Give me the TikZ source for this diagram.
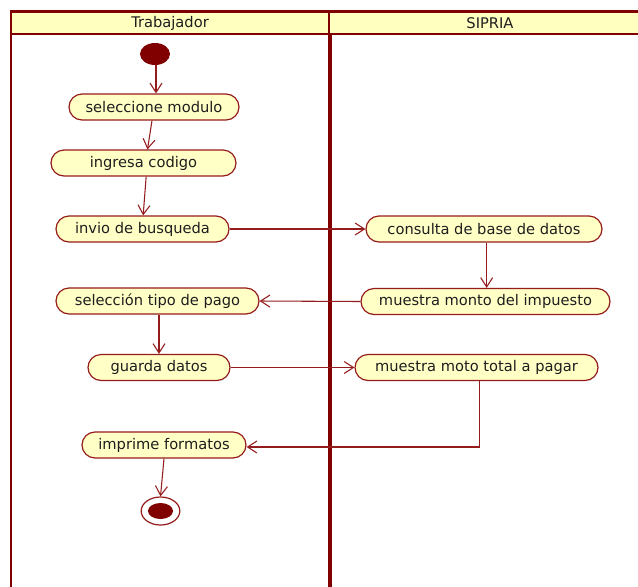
\documentclass[tikz,border=0pt]{standalone}
\usepackage{fontspec}
\setmainfont{DejaVu Sans}
\usetikzlibrary{shapes.misc,shapes.geometric,arrows.meta,calc}
\definecolor{lane}{HTML}{800000}
\definecolor{edge}{HTML}{951C1C}
\definecolor{actfill}{HTML}{FFFFC6}
\definecolor{headfill}{HTML}{FFFFC0}
\definecolor{txt}{HTML}{1E1E1E}
\begin{document}
\begin{tikzpicture}[x=0.75pt,y=-0.75pt,
  act/.style={rounded rectangle, draw=edge, fill=actfill, line width=0.9pt,
    minimum height=19.5pt, inner xsep=0pt, text=txt,
    font=\fontsize{11}{13}\selectfont},
  flow/.style={draw=edge, line width=0.8pt, -{Straight Barb[length=7pt,width=9pt]}},
  headtxt/.style={text=txt, font=\fontsize{11}{13}\selectfont}]
\useasboundingbox (0,0) rectangle (638,586);
\fill[white] (0,0) rectangle (638,586);
% swimlanes
\fill[headfill] (11,12) rectangle (640,34);
\draw[lane, line width=1.6pt] (10,11.5) -- (640,11.5);
\draw[lane, line width=1.6pt] (11,34) -- (640,34);
\draw[lane, line width=1.5pt] (11,11) -- (11,590);
\draw[lane, line width=1.5pt] (329,11) -- (329,34);
\draw[lane, line width=3pt] (330,34) -- (330,590);
\node[headtxt] (h1) at (170,23) {Trabajador};
\node[headtxt] (h2) at (490,23) {SIPRIA};
% start / end
\node[ellipse, fill=lane, minimum width=22.5pt, minimum height=16.5pt, inner sep=0pt] (start) at (155,54) {};
\node[ellipse, draw=edge, line width=0.9pt, minimum width=29pt, minimum height=21pt, inner sep=0pt] (end) at (160.5,511) {};
\fill[lane] (end.center) ellipse[x radius=12.5, y radius=8];
% activities
\node[act, minimum width=127.5pt] (sel) at (154,107) {seleccione modulo};
\node[act, minimum width=138.75pt] (ing) at (143.5,163) {ingresa codigo};
\node[act, minimum width=129.75pt] (inv) at (142.5,229) {invio de busqueda};
\node[act, minimum width=177pt] (con) at (484,229) {consulta de base de datos};
\node[act, minimum width=152.25pt] (tip) at (157.5,301) {selección tipo de pago};
\node[act, minimum width=186.75pt] (mon) at (485.5,301.5) {muestra monto del impuesto};
\node[act, minimum width=106.5pt] (gua) at (159,367.5) {guarda datos};
\node[act, minimum width=182.25pt] (tot) at (476.5,367.5) {muestra moto total a pagar};
\node[act, minimum width=123pt] (imp) at (164,445) {imprime formatos};
% flows
\draw[flow] ([xshift=0.75pt]start.south) -- ([xshift=0.75pt]start.south |- sel.north);
\draw[flow] ([xshift=-1.5pt]sel.south) -- ([xshift=3pt]ing.north);
\draw[flow] ([xshift=2pt]ing.south) -- ([xshift=0.5pt]inv.north);
\draw[flow] (inv.east) -- (con.west);
\draw[flow] ([xshift=2pt]con.south) -- ([xshift=2pt]con.south |- mon.north);
\draw[flow] (mon.west) -- (tip.west -| tip.east);
\draw[flow] (gua.north |- tip.south) -- (gua.north);
\draw[flow] (gua.east) -- (tot.west);
\draw[flow] ([xshift=2pt]tot.south) |- ([yshift=-1.5pt]imp.east);
\draw[flow] (imp.south) -- (end.north);
\end{tikzpicture}
\end{document}
